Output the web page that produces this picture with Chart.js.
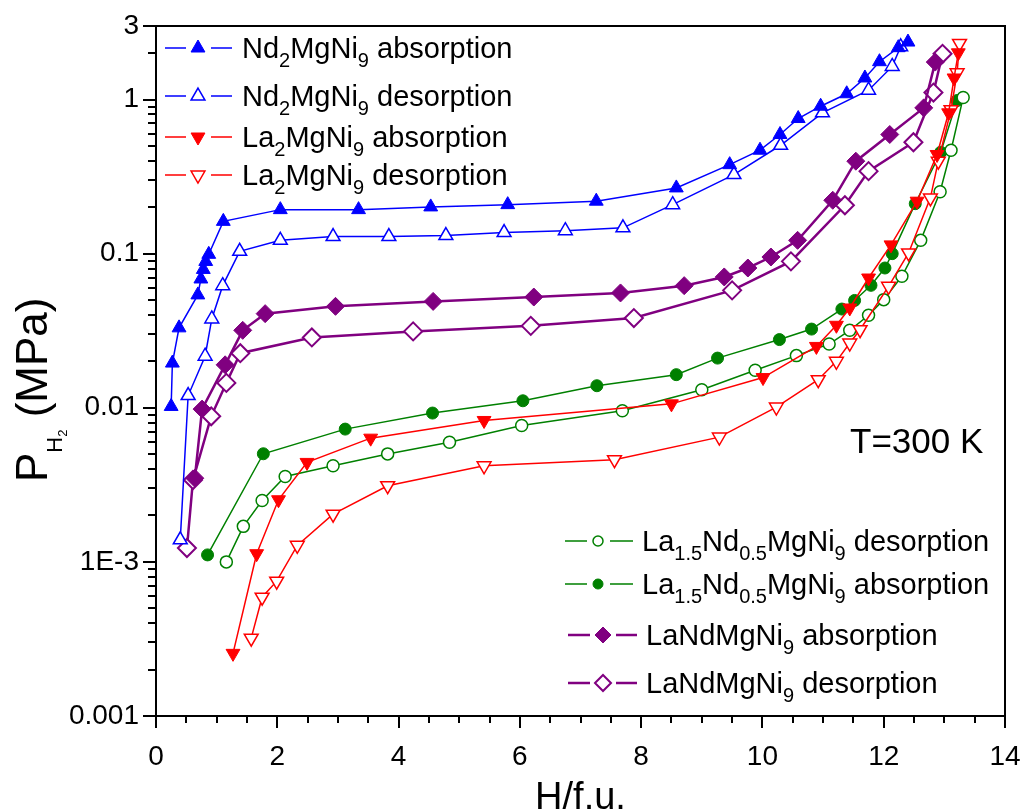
<!DOCTYPE html>
<html>
<head>
<meta charset="utf-8">
<script src="https://cdn.jsdelivr.net/npm/chart.js@4.4.1/dist/chart.umd.min.js"></script>
<style>
  html, body { margin: 0; padding: 0; background: #fff; }
  #wrap { width: 1024px; height: 812px; }
</style>
</head>
<body>
<div id="wrap"><canvas id="pct" width="1024" height="812"></canvas></div>
<script>
// PCT isotherms at 300 K

const nd2AbsX = [0.25, 0.27, 0.38, 0.69, 0.74, 0.78, 0.82, 0.87, 1.11, 2.05, 3.34, 4.53, 5.80, 7.26, 8.58, 9.46, 9.96, 10.29, 10.59, 10.96, 11.39, 11.69, 11.93, 12.24, 12.40];
const nd2AbsY = [0.0102, 0.0195, 0.033, 0.054, 0.0685, 0.079, 0.089, 0.099, 0.162, 0.193, 0.193, 0.201, 0.208, 0.219, 0.267, 0.378, 0.469, 0.593, 0.753, 0.905, 1.09, 1.38, 1.76, 2.17, 2.36];

const nd2DesX = [0.40, 0.53, 0.81, 0.92, 1.10, 1.38, 2.05, 2.92, 3.84, 4.78, 5.74, 6.75, 7.70, 8.52, 9.53, 10.30, 10.99, 11.75, 12.14, 12.28];
const nd2DesY = [0.00139, 0.012, 0.0216, 0.0377, 0.062, 0.1035, 0.122, 0.129, 0.129, 0.131, 0.137, 0.141, 0.147, 0.208, 0.326, 0.505, 0.82, 1.15, 1.64, 2.2];

const la2AbsX = [1.27, 1.66, 2.02, 2.49, 3.54, 5.41, 8.50, 10.01, 10.89, 11.22, 11.44, 11.75, 12.12, 12.55, 12.88, 13.07, 13.16, 13.23];
const la2AbsY = [0.000255, 0.00113, 0.00253, 0.00442, 0.00635, 0.00827, 0.0106, 0.0157, 0.025, 0.0343, 0.0444, 0.0695, 0.114, 0.219, 0.44, 0.82, 1.38, 2.01];

const la2DesX = [1.57, 1.75, 1.99, 2.33, 2.92, 3.82, 5.41, 7.56, 9.29, 10.23, 10.92, 11.22, 11.44, 11.61, 12.08, 12.41, 12.77, 12.90, 13.11, 13.21, 13.25];
const la2DesY = [0.00032, 0.00059, 0.00075, 0.00128, 0.00204, 0.00312, 0.0042, 0.0046, 0.00645, 0.0101, 0.0152, 0.020, 0.0263, 0.0321, 0.0614, 0.101, 0.23, 0.398, 0.86, 1.49, 2.31];

const laNdHalfDesX = [1.16, 1.44, 1.75, 2.13, 2.92, 3.82, 4.84, 6.03, 7.69, 9.00, 9.88, 10.56, 11.10, 11.44, 11.75, 12.00, 12.30, 12.61, 12.93, 13.11, 13.31];
const laNdHalfDesY = [0.001, 0.0017, 0.0025, 0.00358, 0.0042, 0.00502, 0.00598, 0.00767, 0.00957, 0.0131, 0.0175, 0.0218, 0.0259, 0.0318, 0.0398, 0.0503, 0.0713, 0.122, 0.252, 0.469, 1.03];

const laNdHalfAbsX = [0.85, 1.77, 3.12, 4.56, 6.05, 7.27, 8.58, 9.26, 10.28, 10.81, 11.31, 11.52, 11.79, 12.02, 12.14, 12.52, 12.94, 13.21];
const laNdHalfAbsY = [0.00111, 0.00503, 0.00727, 0.00924, 0.0111, 0.0139, 0.0164, 0.021, 0.0277, 0.0324, 0.0437, 0.0497, 0.0623, 0.0807, 0.1, 0.211, 0.455, 0.985];

const laNdAbsX = [0.64, 0.76, 1.14, 1.43, 1.80, 2.96, 4.57, 6.23, 7.66, 8.71, 9.37, 9.76, 10.14, 10.58, 11.16, 11.54, 12.10, 12.66, 12.85];
const laNdAbsY = [0.00349, 0.0098, 0.019, 0.0318, 0.0408, 0.0455, 0.049, 0.0523, 0.0556, 0.062, 0.0706, 0.0807, 0.0951, 0.122, 0.222, 0.398, 0.593, 0.883, 1.75];

const laNdDesX = [0.51, 0.61, 0.91, 1.16, 1.39, 2.57, 4.24, 6.18, 7.88, 9.50, 10.47, 11.36, 11.75, 12.49, 12.82, 12.97];
const laNdDesY = [0.00123, 0.0034, 0.0088, 0.0145, 0.0226, 0.0286, 0.0313, 0.034, 0.0382, 0.0578, 0.0891, 0.206, 0.343, 0.528, 1.11, 1.98];

const seriesNames = [
  'Nd_2MgNi_9 absorption',
  'Nd_2MgNi_9 desorption',
  'La_2MgNi_9 absorption',
  'La_2MgNi_9 desorption',
  'La_{1.5}Nd_{0.5}MgNi_9 desorption',
  'La_{1.5}Nd_{0.5}MgNi_9 absorption',
  'LaNdMgNi_9 absorption',
  'LaNdMgNi_9 desorption'
];

const xTickValues = [0, 2, 4, 6, 8, 10, 12, 14];
const yTickValues = [1e-4, 1e-3, 0.01, 0.1, 1, 3];
const yTickText = ['0.001', '1E-3', '0.01', '0.1', '1', '3'];
const tempLabel = 'T=300 K';

const FONT = '"Liberation Sans", Arial, sans-serif';

function pts(xs, ys) { return xs.map((x, i) => ({ x: x, y: ys[i] })); }

function series(label, xs, ys, color, style, filled, extra) {
  return Object.assign({
    label: label,
    data: pts(xs, ys),
    showLine: true,
    borderColor: color,
    backgroundColor: color,
    borderWidth: 1.5,
    pointStyle: style,
    pointRadius: 8,
    pointBorderColor: color,
    pointBackgroundColor: filled ? color : '#ffffff',
    pointBorderWidth: filled ? 1 : 1.5,
    pointRotation: 0,
    tension: 0,
    fill: false
  }, extra || {});
}

const datasets = [
  series(seriesNames[0], nd2AbsX, nd2AbsY, '#0000ff', 'triangle', true),
  series(seriesNames[1], nd2DesX, nd2DesY, '#0000ff', 'triangle', false),
  series(seriesNames[2], la2AbsX, la2AbsY, '#ff0000', 'triangle', true, { pointRotation: 180 }),
  series(seriesNames[3], la2DesX, la2DesY, '#ff0000', 'triangle', false, { pointRotation: 180 }),
  series(seriesNames[4], laNdHalfDesX, laNdHalfDesY, '#008000', 'circle', false, { pointRadius: 6 }),
  series(seriesNames[5], laNdHalfAbsX, laNdHalfAbsY, '#008000', 'circle', true, { pointRadius: 6 }),
  series(seriesNames[6], laNdAbsX, laNdAbsY, '#800080', 'rectRot', true, { pointRadius: 9, borderWidth: 2.5 }),
  series(seriesNames[7], laNdDesX, laNdDesY, '#800080', 'rectRot', false, { pointRadius: 9, borderWidth: 2.5, pointBorderWidth: 2 })
];

// text with _x / _{xx} subscripts
function drawRich(ctx, str, x, y, size, subSize, subDy) {
  const re = /_\{([^}]*)\}|_(.)/g;
  let last = 0, m;
  const parts = [];
  while ((m = re.exec(str)) !== null) {
    if (m.index > last) parts.push([str.slice(last, m.index), false]);
    parts.push([m[1] !== undefined ? m[1] : m[2], true]);
    last = re.lastIndex;
  }
  if (last < str.length) parts.push([str.slice(last), false]);
  parts.forEach(([t, sub]) => {
    ctx.font = (sub ? subSize : size) + 'px ' + FONT;
    ctx.fillText(t, x, y + (sub ? subDy : 0));
    x += ctx.measureText(t).width;
  });
  return x;
}

function legendItem(ctx, chart, idx, l1, l2, mx, r1, r2, tx, y) {
  const ds = chart.data.datasets[idx];
  ctx.save();
  ctx.strokeStyle = ds.borderColor;
  ctx.lineWidth = ds.borderWidth;
  ctx.beginPath();
  ctx.moveTo(l1, y); ctx.lineTo(l2, y);
  ctx.moveTo(r1, y); ctx.lineTo(r2, y);
  ctx.stroke();
  ctx.fillStyle = ds.pointBackgroundColor;
  ctx.strokeStyle = ds.pointBorderColor;
  ctx.lineWidth = ds.pointBorderWidth;
  Chart.helpers.drawPoint(ctx, {
    pointStyle: ds.pointStyle, rotation: ds.pointRotation,
    radius: ds.pointRadius - (ds.pointStyle === 'rectRot' ? 1 : 0) - (ds.pointStyle === 'circle' ? 1 : 0),
    borderWidth: ds.pointBorderWidth
  }, mx, y);
  ctx.fillStyle = '#000';
  ctx.textBaseline = 'alphabetic';
  ctx.textAlign = 'left';
  drawRich(ctx, ds.label, tx, y + 10, 29, 20, 9);
  ctx.restore();
}

const decorPlugin = {
  id: 'decor',
  afterDraw(chart) {
    const ctx = chart.ctx;
    const a = chart.chartArea;
    const xs = chart.scales.x, ys = chart.scales.y;
    ctx.save();
    ctx.strokeStyle = '#000';
    ctx.lineWidth = 2;
    ctx.strokeRect(a.left, a.top, a.right - a.left, a.bottom - a.top);

    // ticks, bottom axis
    ctx.beginPath();
    for (let v = 0; v <= 14.001; v += 0.5) {
      const px = Math.round(xs.getPixelForValue(v));
      const len = (Math.abs(v % 2) < 1e-6) ? 12 : 7;
      ctx.moveTo(px, a.bottom); ctx.lineTo(px, a.bottom + len);
    }
    // ticks, left axis (log minors)
    for (let d = -4; d <= 0; d++) {
      for (let m = 1; m <= 9; m++) {
        const v = m * Math.pow(10, d);
        if (v > 3.0001) continue;
        const py = Math.round(ys.getPixelForValue(v));
        const len = m === 1 ? 13 : 8;
        ctx.moveTo(a.left, py); ctx.lineTo(a.left - len, py);
      }
    }
    const p3 = Math.round(ys.getPixelForValue(3));
    ctx.moveTo(a.left, p3); ctx.lineTo(a.left - 13, p3);
    ctx.stroke();

    ctx.fillStyle = '#000';
    // x title
    ctx.textAlign = 'center';
    ctx.textBaseline = 'alphabetic';
    ctx.font = '38px ' + FONT;
    ctx.fillText('H/f.u.', (a.left + a.right) / 2, 809);

    // y title, rotated, with P_H2
    ctx.save();
    ctx.translate(47, 482);
    ctx.rotate(-Math.PI / 2);
    ctx.textAlign = 'left';
    let x = 0;
    ctx.font = '44px ' + FONT;
    ctx.fillText('P', x, 0); x += ctx.measureText('P').width;
    ctx.font = '22px ' + FONT;
    ctx.fillText('H', x, 15); x += ctx.measureText('H').width;
    ctx.font = '13px ' + FONT;
    ctx.fillText('2', x, 20); x += ctx.measureText('2').width;
    ctx.font = '44px ' + FONT;
    ctx.fillText(' (MPa)', x, 0);
    ctx.restore();

    // temperature note
    ctx.textAlign = 'left';
    ctx.font = '35px ' + FONT;
    ctx.fillText(tempLabel, 850, 453);

    // legends
    const topRows = [48, 96, 137, 175];
    topRows.forEach((y, i) => legendItem(ctx, chart, i, 165, 186, 198, 211, 232, 242, y));
    const botRows = [541, 584, 635, 683];
    botRows.forEach((y, i) => {
      if (i < 2) legendItem(ctx, chart, 4 + i, 565, 587, 598, 610, 633, 642, y);
      else legendItem(ctx, chart, 4 + i, 568, 590, 603, 616, 637, 646, y);
    });
    ctx.restore();
  }
};

new Chart(document.getElementById('pct'), {
  type: 'scatter',
  data: { datasets: datasets },
  options: {
    responsive: false,
    animation: false,
    devicePixelRatio: 1,
    layout: { padding: { left: 0, right: 19, top: 26, bottom: 0 } },
    plugins: { legend: { display: false }, tooltip: { enabled: false }, title: { display: false } },
    scales: {
      x: {
        type: 'linear', min: 0, max: 14,
        grid: { display: false, drawTicks: false },
        border: { display: false },
        afterBuildTicks: s => { s.ticks = xTickValues.map(v => ({ value: v })); },
        afterFit: s => { s.height = 96; s.paddingLeft = 0; s.paddingRight = 0; },
        ticks: { color: '#000', font: { size: 28, family: FONT }, padding: 24, maxRotation: 0, autoSkip: false }
      },
      y: {
        type: 'logarithmic', min: 1e-4, max: 3,
        grid: { display: false, drawTicks: false },
        border: { display: false },
        afterBuildTicks: s => { s.ticks = yTickValues.map(v => ({ value: v })); },
        afterFit: s => { s.width = 156; s.paddingTop = 0; s.paddingBottom = 0; },
        ticks: {
          color: '#000', font: { size: 28, family: FONT }, padding: 17, autoSkip: false,
          callback: (v, i) => yTickText[i]
        }
      }
    }
  },
  plugins: [decorPlugin]
});
</script>
</body>
</html>
